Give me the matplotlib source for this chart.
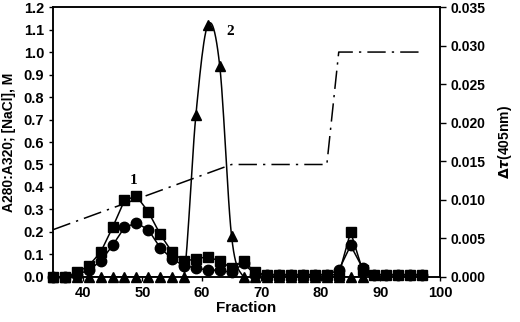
import numpy as np
import matplotlib
matplotlib.use("Agg")
import matplotlib.pyplot as plt

# fraction numbers
fractions = np.arange(35, 98, 2)

# A280:A320 style series
squares = [0.00, 0.00, 0.02, 0.05, 0.11, 0.22, 0.34, 0.36, 0.29, 0.19,
           0.11, 0.07, 0.08, 0.09, 0.07, 0.04, 0.07, 0.02, 0.01, 0.01,
           0.01, 0.01, 0.01, 0.01, 0.01, 0.20, 0.03, 0.01, 0.01, 0.01,
           0.01, 0.01]
circles = [0.00, 0.00, 0.01, 0.03, 0.07, 0.14, 0.22, 0.24, 0.21, 0.13,
           0.08, 0.05, 0.04, 0.03, 0.03, 0.02, 0.06, 0.01, 0.01, 0.01,
           0.01, 0.01, 0.01, 0.01, 0.03, 0.14, 0.04, 0.01, 0.01, 0.01,
           0.01, 0.01]
tri_x = [35, 37, 39, 41, 43, 45, 47, 49, 51, 53, 55, 57, 59, 61, 63, 65,
         67, 69, 71, 73, 75, 77, 79, 81, 83, 85, 87]
triangles = [0, 0, 0, 0, 0, 0, 0, 0, 0, 0, 0, 0, 0.72, 1.12, 0.94, 0.18,
             0, 0, 0, 0, 0, 0, 0, 0, 0, 0, 0]

# NaCl gradient (M)
salt_x = [35, 65, 81, 83, 97]
salt_y = [0.21, 0.50, 0.50, 1.00, 1.00]


def smooth(x, y, n=12):
    # catmull-rom through the points, just for drawing the curve
    x = np.asarray(x, float)
    y = np.asarray(y, float)
    px = np.concatenate([[x[0]], x, [x[-1]]])
    py = np.concatenate([[y[0]], y, [y[-1]]])
    xs, ys = [], []
    for i in range(1, len(px) - 2):
        t = np.linspace(0, 1, n, endpoint=False)
        for p, out in ((px, xs), (py, ys)):
            p0, p1, p2, p3 = p[i - 1], p[i], p[i + 1], p[i + 2]
            out.extend(0.5 * ((2 * p1) + (-p0 + p2) * t
                              + (2 * p0 - 5 * p1 + 4 * p2 - p3) * t ** 2
                              + (-p0 + 3 * p1 - 3 * p2 + p3) * t ** 3))
    xs.append(x[-1])
    ys.append(y[-1])
    return np.array(xs), np.array(ys)


plt.rcParams['font.family'] = ['Liberation Sans', 'DejaVu Sans']
plt.rcParams['font.weight'] = 'bold'

fig = plt.figure(figsize=(5.2, 3.22), dpi=100)
ax = fig.add_axes([0.102, 0.14, 0.744, 0.838])

ax.plot(fractions, squares, color='black', lw=1.1, marker='s', ms=6.5,
        zorder=3, clip_on=False)
ax.plot(fractions, circles, color='black', lw=1.1, marker='o', ms=7.5,
        zorder=3, clip_on=False)
sx, sy = smooth(tri_x, triangles)
ax.plot(sx, sy, color='black', lw=1.1, zorder=3)
ax.plot(tri_x, triangles, ls='none', color='black', marker='^', ms=6.5,
        zorder=4, clip_on=False)
ax.plot(salt_x, salt_y, color='black', lw=1.1, ls=(0, (12, 4, 1.5, 4)))

ax.text(48.6, 0.43, '1', family='Liberation Serif', fontsize=11,
        fontweight='bold', ha='center', va='center')
ax.text(64.8, 1.09, '2', family='Liberation Serif', fontsize=11,
        fontweight='bold', ha='center', va='center')

ax.set_xlim(35, 100)
ax.set_ylim(0, 1.2)
ax.set_xticks([40, 50, 60, 70, 80, 90, 100])
ax.set_yticks(np.arange(0, 1.21, 0.1))
ax.yaxis.set_major_formatter(matplotlib.ticker.FormatStrFormatter('%.1f'))
ax.tick_params(direction='out', length=3, labelsize=10.5, width=1)
ax.set_xlabel('Fraction', fontsize=11, fontweight='bold', labelpad=1)
ax.set_ylabel('A280:A320; [NaCl], M', fontsize=10, fontweight='bold', labelpad=5)

ax2 = ax.twinx()
ax2.set_ylim(0, 0.035)
ax2.set_yticks(np.arange(0, 0.0351, 0.005))
ax2.yaxis.set_major_formatter(matplotlib.ticker.FormatStrFormatter('%.3f'))
ax2.tick_params(direction='out', length=4, labelsize=10, width=1)
ax2.set_ylabel(r'$\Delta\tau$(405nm)', fontsize=10, fontweight='bold', labelpad=8)

for a in (ax, ax2):
    for s in a.spines.values():
        s.set_linewidth(1.1)

fig.savefig('out.png', dpi=100)
